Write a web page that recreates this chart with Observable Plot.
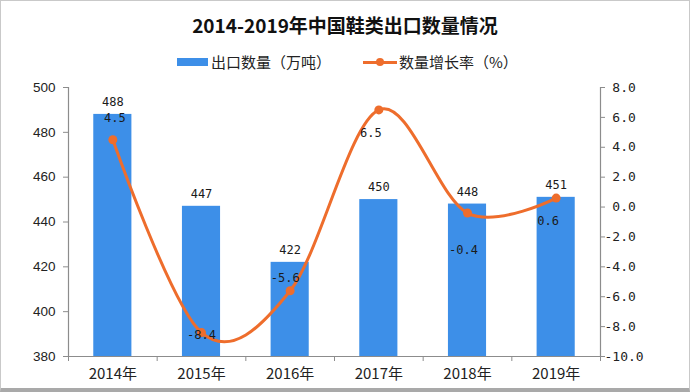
<!DOCTYPE html>
<html><head><meta charset="utf-8">
<script src="https://cdn.jsdelivr.net/npm/d3@7"></script>
<script src="https://cdn.jsdelivr.net/npm/@observablehq/plot@0.6"></script>
<style>
body{margin:0;background:#fff;}
#wrap{position:relative;width:690px;height:392px;overflow:hidden;background:#fff;font-family:"Noto Sans CJK SC",sans-serif;}
#title{position:absolute;left:0;top:13px;width:690px;text-align:center;font-size:19px;font-weight:bold;line-height:24px;color:#111;}
.lgt{position:absolute;top:52px;height:20px;line-height:20px;font-size:15px;color:#222;white-space:nowrap;}
#chart{position:absolute;left:0;top:70px;}
#border{position:absolute;left:0;top:0;width:690px;height:392px;border:1px solid #c9c9c9;border-bottom:4px solid #a9a9a9;box-sizing:border-box;pointer-events:none;}
</style></head><body>
<div id="wrap">
  <div id="title">2014-2019年中国鞋类出口数量情况</div>
  <div id="legend"></div>
  <div id="chart"></div>
  <div id="border"></div>
</div>
<script>
// ---- data ----
const years = ["2014年", "2015年", "2016年", "2017年", "2018年", "2019年"];
const exportVolume = [488, 447, 422, 450, 448, 451];   // 出口数量（万吨）
const growthRate = [4.5, -8.4, -5.6, 6.5, -0.4, 0.6];  // 数量增长率（%）
const leftTicks = [380, 400, 420, 440, 460, 480, 500];
const rightTicks = [-10, -8, -6, -4, -2, 0, 2, 4, 6, 8];

const barColor = "#3d8fe8";
const lineColor = "#ee6d2c";
const axisColor = "#8c8c8c";

// legend
const lg = document.getElementById("legend");
lg.innerHTML = `
  <div style="position:absolute;left:177px;top:58px;width:31px;height:8px;background:${barColor}"></div>
  <div class="lgt" style="left:211px">出口数量（万吨）</div>
  <div style="position:absolute;left:363px;top:60.5px;width:34px;height:3px;background:${lineColor}"></div>
  <div style="position:absolute;left:376px;top:58px;width:8px;height:8px;border-radius:50%;background:${lineColor}"></div>
  <div class="lgt" style="left:399px">数量增长率（%）</div>`;

// map right-axis (rate) values onto the left scale domain
const yMin = leftTicks[0], yMax = leftTicks[leftTicks.length - 1];
const rMin = rightTicks[0], rMax = rightTicks[rightTicks.length - 1];
const toLeft = r => yMin + (r - rMin) * (yMax - yMin) / (rMax - rMin);
const fromLeft = v => rMin + (v - yMin) * (rMax - rMin) / (yMax - yMin);

const data = years.map((year, i) => ({
  year, i, c: i + 0.5, volume: exportVolume[i], rate: growthRate[i], rateY: toLeft(growthRate[i])
}));
const halfBar = 0.215;
const byYear = ys => data.filter(d => ys.includes(d.year));
const rateFmt = d => d.rate.toFixed(1);
const labelFont = {fontFamily: "DejaVu Sans Mono", fontSize: 12, fill: "#1b1b1b"};

const chart = Plot.plot({
  width: 690, height: 322,
  marginTop: 17, marginBottom: 36, marginLeft: 68, marginRight: 90,
  x: {type: "linear", domain: [0, years.length], axis: null, label: null},
  y: {domain: [yMin, yMax], axis: null, label: null},
  style: {background: "transparent", overflow: "visible"},
  marks: [
    Plot.rect(data, {x1: d => d.c - halfBar, x2: d => d.c + halfBar, y1: yMin, y2: "volume", fill: barColor}),
    Plot.ruleY([yMin], {stroke: axisColor, strokeWidth: 1.2}),
    Plot.ruleX([0, years.length], {stroke: axisColor, strokeWidth: 1.2}),
    Plot.axisY({ticks: leftTicks, anchor: "left", label: null, tickSize: 5, tickPadding: 8, stroke: axisColor, fill: "#222",
      fontSize: 13.5, fontFamily: "Liberation Sans", tickFormat: d => String(d)}),
    Plot.axisY({ticks: rightTicks.map(toLeft), anchor: "right", label: null, tickSize: 4, tickPadding: 0, stroke: axisColor, fill: "#222",
      fontSize: 13, fontFamily: "DejaVu Sans Mono", textAnchor: "start",
      tickFormat: v => { const r = Math.round(fromLeft(v) * 10) / 10; return (r < 0 ? "-" : "\u00a0") + Math.abs(r).toFixed(1); }}),
    Plot.axisX({ticks: d3.range(years.length + 1), anchor: "bottom", label: null, tickSize: 5, stroke: axisColor, tickFormat: () => ""}),
    Plot.axisX({ticks: data.map(d => d.c), anchor: "bottom", label: null, tickSize: 0, tickPadding: 12, fill: "#222",
      fontSize: 15, fontFamily: "Noto Sans CJK SC", tickFormat: c => years[Math.floor(c)]}),
    Plot.line(data, {x: "c", y: "rateY", curve: "cardinal", stroke: lineColor, strokeWidth: 3}),
    Plot.dot(data, {x: "c", y: "rateY", r: 4.5, fill: lineColor}),
    Plot.text(data, {x: "c", y: "volume", text: d => String(d.volume), dy: -12, ...labelFont}),
    Plot.text(byYear(["2014年"]), {x: "c", y: "rateY", text: rateFmt, dy: -22, dx: 2, ...labelFont}),
    Plot.text(byYear(["2015年"]), {x: "c", y: "rateY", text: rateFmt, dy: 3, ...labelFont}),
    Plot.text(byYear(["2016年"]), {x: "c", y: "rateY", text: rateFmt, dy: -13, dx: -5, ...labelFont}),
    Plot.text(byYear(["2017年", "2019年"]), {x: "c", y: "rateY", text: rateFmt, dy: 23, dx: -8, ...labelFont}),
    Plot.text(byYear(["2018年"]), {x: "c", y: "rateY", text: rateFmt, dy: 37, dx: -4, ...labelFont})
  ]
});
document.getElementById("chart").appendChild(chart);
</script>
</body></html>
